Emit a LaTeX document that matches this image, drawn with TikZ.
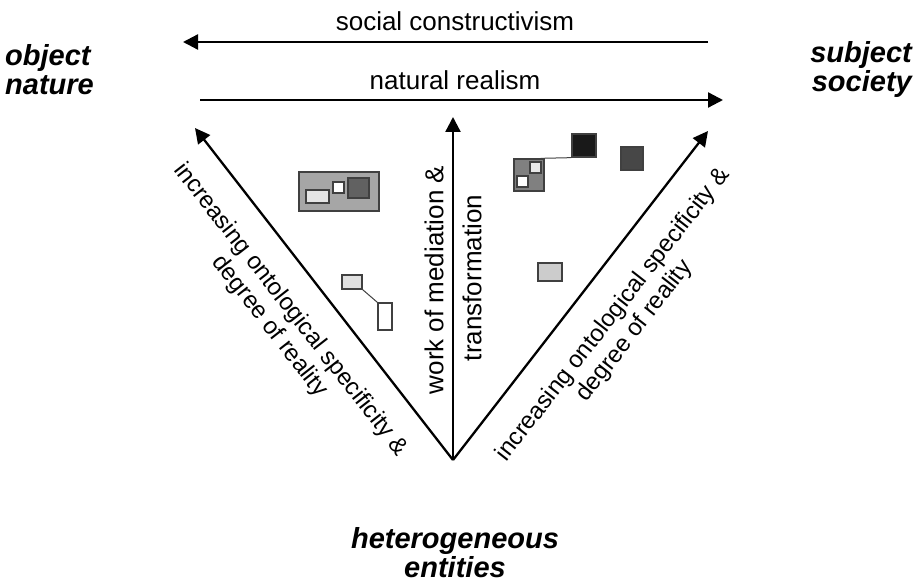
\documentclass[tikz,border=0pt]{standalone}
\usepackage{fontspec}
\setmainfont{Liberation Sans}
\usetikzlibrary{arrows.meta}

\begin{document}
\begin{tikzpicture}[x=1bp,y=-1bp,
                every path/.style={>={Triangle[length=15bp,width=15bp]}},
                axis/.style={->,line width=2.3bp},
                lbl/.style={font=\fontsize{26bp}{30bp}\selectfont,align=center,inner sep=0pt},
                diag/.style={font=\fontsize{24bp}{27bp}\selectfont,align=center,inner sep=0pt},
                pole/.style={font=\fontsize{29bp}{29bp}\selectfont\bfseries\itshape,inner sep=0pt},
                box/.style={draw=black!75,line width=1.3bp,inner sep=0pt}]
  \useasboundingbox (0,0) rectangle (918,584);
  % axes
  \coordinate      (apex) at (453,460);
  \coordinate      (ltip) at (195,128);
  \coordinate      (mtip) at (453,117);
  \coordinate      (rtip) at (708,131);
  \coordinate      (scR)  at (708,42);
  \coordinate      (scL)  at (183,42);
  \coordinate      (nrL)  at (200,100);
  \coordinate      (nrR)  at (723,100);
  \draw[axis] (apex) -- (ltip);
  \draw[axis] (apex) -- (mtip);
  \draw[axis] (apex) -- (rtip);
  \draw[axis] (scR) -- (scL);
  \draw[axis] (nrL) -- (nrR);
  % labels
  \node[lbl]       (social) at (455,21)  {social constructivism};
  \node[lbl]       (natural) at (455,80) {natural realism};
  \node[diag,rotate=-52] (lspec) at (280,318) {increasing ontological specificity \&\\degree of reality};
  \node[diag,rotate=52]  (rspec) at (624,323) {increasing ontological specificity \&\\degree of reality};
  \node[lbl,rotate=90]  (work)  at (434,280) {work of mediation \&};
  \node[lbl,rotate=90]  (trans) at (472,278) {transformation};
  % poles
  \node[pole,align=left,anchor=west]  (object)  at (5,70)    {object\\nature};
  \node[pole,align=right,anchor=east] (subject) at (912,70)  {subject\\society};
  \node[pole,align=center]            (hetero)  at (455,553) {heterogeneous\\entities};
  % entities, left
  \node[box,fill=black!35,minimum width=80bp,minimum height=39bp] (lbig) at (339,191.5) {};
  \node[box,fill=black!10,minimum width=23bp,minimum height=13bp] (lbigA) at (317.5,196.5) {};
  \node[box,fill=white,minimum width=11bp,minimum height=11bp]    (lbigB) at (338.5,187.5) {};
  \node[box,fill=black!62,minimum width=21bp,minimum height=20bp] (lbigC) at (358.5,188) {};
  \node[box,fill=black!12,minimum width=20bp,minimum height=14bp] (lsmall) at (352,282) {};
  \node[box,fill=white,minimum width=14bp,minimum height=27bp]    (ltall) at (385,316.5) {};
  \draw[black!75,line width=1bp] (lsmall.south east) -- (ltall.north west);
  % entities, right
  \node[box,fill=black!50,minimum width=30bp,minimum height=32bp] (rmid) at (529,175) {};
  \node[box,fill=black!9,minimum width=11bp,minimum height=11bp]  (rmidA) at (535.5,167.5) {};
  \node[box,fill=white,minimum width=11bp,minimum height=11bp]    (rmidB) at (522.5,181.5) {};
  \node[box,fill=black!90,minimum width=24bp,minimum height=23bp] (rblack) at (584,145.5) {};
  \node[box,fill=black!72,minimum width=22bp,minimum height=23bp] (rdark) at (632,158.5) {};
  \node[box,fill=black!20,minimum width=24bp,minimum height=18bp] (rlight) at (550,272) {};
  \draw[black!75,line width=1bp] ([xshift=-4bp]rmid.north east) -- (rblack.south west);
\end{tikzpicture}
\end{document}
